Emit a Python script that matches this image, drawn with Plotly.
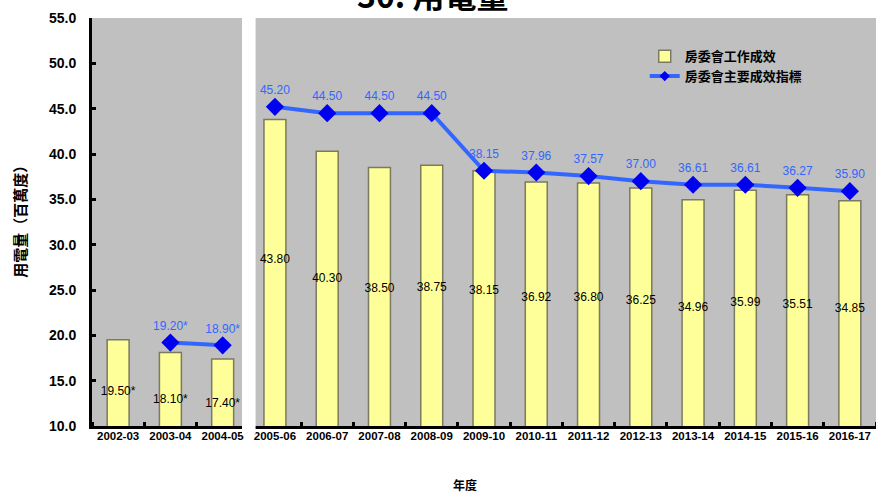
import plotly.graph_objects as go

years = ["2002-03", "2003-04", "2004-05", "2005-06", "2006-07", "2007-08", "2008-09",
         "2009-10", "2010-11", "2011-12", "2012-13", "2013-14", "2014-15", "2015-16", "2016-17"]
work_values = [19.50, 18.10, 17.40, 43.80, 40.30, 38.50, 38.75, 38.15, 36.92, 36.80,
               36.25, 34.96, 35.99, 35.51, 34.85]
work_labels = ["19.50*", "18.10*", "17.40*", "43.80", "40.30", "38.50", "38.75", "38.15",
               "36.92", "36.80", "36.25", "34.96", "35.99", "35.51", "34.85"]
kpi_values = [None, 19.20, 18.90, 45.20, 44.50, 44.50, 44.50, 38.15, 37.96, 37.57,
              37.00, 36.61, 36.61, 36.27, 35.90]
kpi_labels = ["", "19.20*", "18.90*", "45.20", "44.50", "44.50", "44.50", "38.15", "37.96",
              "37.57", "37.00", "36.61", "36.61", "36.27", "35.90"]
split = 3  # break between 2004-05 and 2005-06

xs = list(range(len(years)))
BAR_FILL = "#FFFF99"
LINE_C = "#3366FF"
MARK_C = "#0000F0"
FONT = "Liberation Sans, Arial, sans-serif"
CJK = "Noto Sans CJK TC, sans-serif"

# bar value labels sit a bit above the middle of each bar
label_y = [0.6 * v + 2 for v in work_values]

fig = go.Figure()
fig.add_trace(go.Bar(
    x=xs, y=work_values, width=0.42,
    marker=dict(color=BAR_FILL, line=dict(color="#7a7a60", width=1.5)),
    name="房委會工作成效", showlegend=True, legendrank=1,
))
fig.add_trace(go.Scatter(
    x=xs, y=label_y, mode="text", text=work_labels, textposition="middle center",
    textfont=dict(family=FONT, size=12, color="black"), showlegend=False, hoverinfo="skip",
))
for lo, hi in [(0, split), (split, len(years))]:
    fig.add_trace(go.Scatter(
        x=xs[lo:hi], y=kpi_values[lo:hi], mode="lines+markers+text",
        line=dict(color=LINE_C, width=4),
        marker=dict(symbol="diamond", size=14, color=MARK_C),
        text=kpi_labels[lo:hi], textposition="top center",
        textfont=dict(family=FONT, size=12, color=LINE_C),
        name="房委會主要成效指標", legendgroup="kpi", showlegend=False,
    ))
# legend entry for the line series
fig.add_trace(go.Scatter(
    x=[None], y=[None], mode="lines+markers",
    line=dict(color=LINE_C, width=4), marker=dict(symbol="diamond", size=8, color=MARK_C),
    name="房委會主要成效指標", legendgroup="kpi", showlegend=True, legendrank=2,
))

fig.update_layout(
    width=876, height=493,
    margin=dict(l=92, r=0, t=18, b=67),
    paper_bgcolor="white", plot_bgcolor="#C0C0C0",
    showlegend=True,
    legend=dict(x=0.705, y=0.943, xanchor="left", yanchor="top", bgcolor="rgba(0,0,0,0)",
                font=dict(family=CJK, size=13, color="black", weight="bold"),
                tracegroupgap=0, itemwidth=30),
    xaxis=dict(range=[-0.5, 14.5], tickvals=xs, ticktext=years, showgrid=False, zeroline=False,
               showline=True, linecolor="black", linewidth=3, ticks="", ticklen=0,
               automargin=False, ticklabelstandoff=-3, ticklabeloverflow="allow",
               tickfont=dict(family=FONT, size=11.5, color="black", weight="bold"),
               minor=dict(ticks="inside", tick0=0.5, dtick=1, ticklen=4, tickwidth=3,
                          tickcolor="black")),
    yaxis=dict(range=[10, 55], dtick=5, tickformat=".1f", showgrid=False, zeroline=False,
               showline=True, linecolor="black", linewidth=3, ticks="inside", ticklen=4,
               tickwidth=3, tickcolor="black", automargin=False, ticklabelstandoff=10,
               tickfont=dict(family=FONT, size=14, color="black", weight="bold")),
    shapes=[dict(type="rect", xref="x", yref="paper", x0=2.37, x1=2.63, y0=-0.02, y1=1.0,
                 fillcolor="white", line=dict(width=0), layer="above")],
    annotations=[
        dict(text="30. 用電量", xref="paper", yref="paper", x=0.434, y=1.058,
             xanchor="center", yanchor="middle", showarrow=False,
             font=dict(family=CJK, size=32, color="black", weight="bold")),
        dict(text="用電量（百萬度）", xref="paper", yref="paper", x=-0.092, y=0.51,
             textangle=-90, xanchor="center", yanchor="middle", showarrow=False,
             font=dict(family=CJK, size=15, color="black", weight="bold")),
        dict(text="年度", xref="paper", yref="paper", x=0.476, y=-0.144,
             xanchor="center", yanchor="middle", showarrow=False,
             font=dict(family=CJK, size=12, color="black", weight="bold")),
    ],
)

fig.write_html(
    "out.html",
    config={"displayModeBar": False},
    post_script="document.body.style.margin='0';document.body.style.overflow='hidden';",
)
